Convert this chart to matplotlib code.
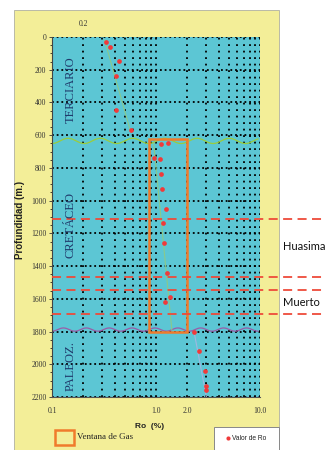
import numpy as np
import matplotlib
matplotlib.use("Agg")
import matplotlib.pyplot as plt
from matplotlib.patches import Rectangle

# Ro measurements (%) vs depth (m)
ro_values = [0.33, 0.36, 0.44, 0.415, 0.415, 0.57,
             1.11, 1.31, 0.96, 1.09, 1.12, 1.13, 1.24, 1.18, 1.19, 1.28, 1.36, 1.21,
             2.32, 2.61, 2.98, 3.02, 3.03]
depths = [29, 59, 145, 236, 446, 568,
          654, 650, 742, 746, 837, 929, 1051, 1135, 1257, 1441, 1591, 1618,
          1800, 1917, 2042, 2132, 2156]

# trend lines
trend_top_ro = [0.32, 0.57]
trend_top_depth = [18, 578]
trend_mid_ro = [0.95, 1.42]
trend_mid_depth = [648, 1790]
trend_low_ro = [2.32, 3.05]
trend_low_depth = [1800, 2200]

# gas window
window_ro = (0.85, 2.0)
window_depth = (625, 1800)

# formation tops (red dashed) and unconformities
dashed_depths = [1115, 1465, 1545, 1690]
unconf_top = 635
unconf_bottom = 1788

formations = ["TERCIARIO", "CRETÁCEO", "PALEOZ."]
formation_depths = [325, 1150, 2010]

xtick_vals = [0.1, 1.0, 2.0, 10.0]
xtick_labels = ["0.1", "1.0", "2.0", "10.0"]
ytick_vals = list(range(0, 2201, 200))

W, H = 326, 450
fig = plt.figure(figsize=(W/100, H/100), dpi=100)
fig.patch.set_facecolor("white")

# yellow panel
fig.add_artist(Rectangle((14/W, 0), (279-14)/W, (H-10)/H, transform=fig.transFigure,
                         facecolor="#F3EE98", edgecolor="#B0B0A0", lw=0.6, zorder=-10))

ax = fig.add_axes([52/W, (H-397)/H, 208/W, 360/H])
ax.set_zorder(1)
ax.set_facecolor("#5CC6D4")
ax.set_xscale("log")
ax.set_xlim(0.1, 10)
ax.set_ylim(2200, 0)

# dotted grid
for y in ytick_vals:
    ax.axhline(y, color="black", lw=1.3, ls=(0, (1, 1.6)), zorder=1)
vgrid = [i/10 for i in range(2, 10)] + list(range(1, 11))
for x in vgrid:
    ax.axvline(x, color="black", lw=1.3, ls=(0, (1, 2.6)), zorder=1)

ax.set_xticks(xtick_vals)
ax.set_xticklabels(xtick_labels)
ax.xaxis.set_minor_formatter(matplotlib.ticker.NullFormatter())
ax.set_yticks(ytick_vals)
ax.set_yticks(range(0, 2201, 50), minor=True)
ax.tick_params(axis="both", labelsize=5.5, colors="#333333", length=2, width=0.6, pad=2)
ax.tick_params(axis="x", which="both", length=0, pad=7)
ax.tick_params(axis="y", which="minor", length=1.5, width=0.5)
for lab in ax.get_xticklabels() + ax.get_yticklabels():
    lab.set_family("Liberation Serif")
for s in ["top", "right"]:
    ax.spines[s].set_visible(False)
ax.spines["left"].set_color("#444444")
ax.spines["bottom"].set_color("#555555")
ax.spines["left"].set_linewidth(0.8)
ax.spines["bottom"].set_linewidth(0.8)

ax.annotate("0.2", (0.2, 0), xytext=(0, 8), textcoords="offset points", ha="center",
            fontsize=5.5, family="Liberation Serif", color="#333333", annotation_clip=False)

# unconformities (decorative wavy symbols)
xw = np.logspace(-1, 0.98, 400)
ax.plot(xw, unconf_top + 16*np.cos(2*np.pi*(np.log10(xw)+1)/0.31), color="#9ACD3C", lw=0.9, zorder=2)
ax.plot(xw, unconf_bottom + 10*np.cos(2*np.pi*(np.log10(xw)+1)/0.22), color="#9A5CA8", lw=0.9, zorder=2)

# gas window
ax.add_patch(Rectangle((window_ro[0], window_depth[0]), window_ro[1]-window_ro[0],
                       window_depth[1]-window_depth[0], fill=False, edgecolor="#F07B2C", lw=1.8, zorder=3))

# formation tops
for d in dashed_depths:
    ax.axhline(d, xmin=0, xmax=(W-52)/208, color="#EE4B3A", lw=1.3, ls=(0, (5, 3)),
               clip_on=False, zorder=4)

# trends and data
ax.plot(trend_top_ro, trend_top_depth, color="#8BC98A", lw=0.8, zorder=3)
ax.plot(trend_mid_ro, trend_mid_depth, color="#8BC98A", lw=0.8, zorder=3)
ax.plot(trend_low_ro, trend_low_depth, color="#9FB8E0", lw=0.8, zorder=3)
ax.plot(ro_values, depths, "o", color="#F03A3A", ms=3.4, mew=0, zorder=5)

for name, d in zip(formations, formation_depths):
    ax.text(0.15, d, name, rotation=90, ha="center", va="center", fontsize=9,
            family="Liberation Serif", color="#1F3A6B", zorder=4)

fig.text(20/W, 1-220/H, "Profundidad (m.)", rotation=90, ha="center", va="center",
         fontsize=7, fontweight="bold", family="Liberation Sans", color="#222222")
fig.text(150/W, 1-426/H, "Ro  (%)", ha="center", va="center", fontsize=6,
         fontweight="bold", family="Liberation Sans", color="#222222")

# side labels
fig.text(283/W, 1-247/H, "Huasima", ha="left", va="center", fontsize=8,
         family="Lato", color="#111111")
fig.text(283/W, 1-302/H, "Muerto", ha="left", va="center", fontsize=8,
         family="Lato", color="#111111")

# legend: gas window
fig.add_artist(Rectangle((55/W, 1-445/H), 19/W, 15/H, transform=fig.transFigure,
                         fill=False, edgecolor="#F07B2C", lw=1.8))
fig.text(77/W, 1-437/H, "Ventana de Gas", ha="left", va="center", fontsize=6.5,
         family="Liberation Serif", color="#222222")

# legend: Ro values
fig.add_artist(Rectangle((214/W, 0), 65/W, 23/H, transform=fig.transFigure,
                         facecolor="white", edgecolor="#888888", lw=0.7))
fig.add_artist(plt.Line2D([228/W], [1-438/H], transform=fig.transFigure, marker="o",
                          color="#F03A3A", ms=3, mew=0))
fig.text(232/W, 1-438/H, "Valor de Ro", ha="left", va="center", fontsize=4.8,
         family="Liberation Sans", color="#222222")

fig.savefig("out.png", dpi=100)
